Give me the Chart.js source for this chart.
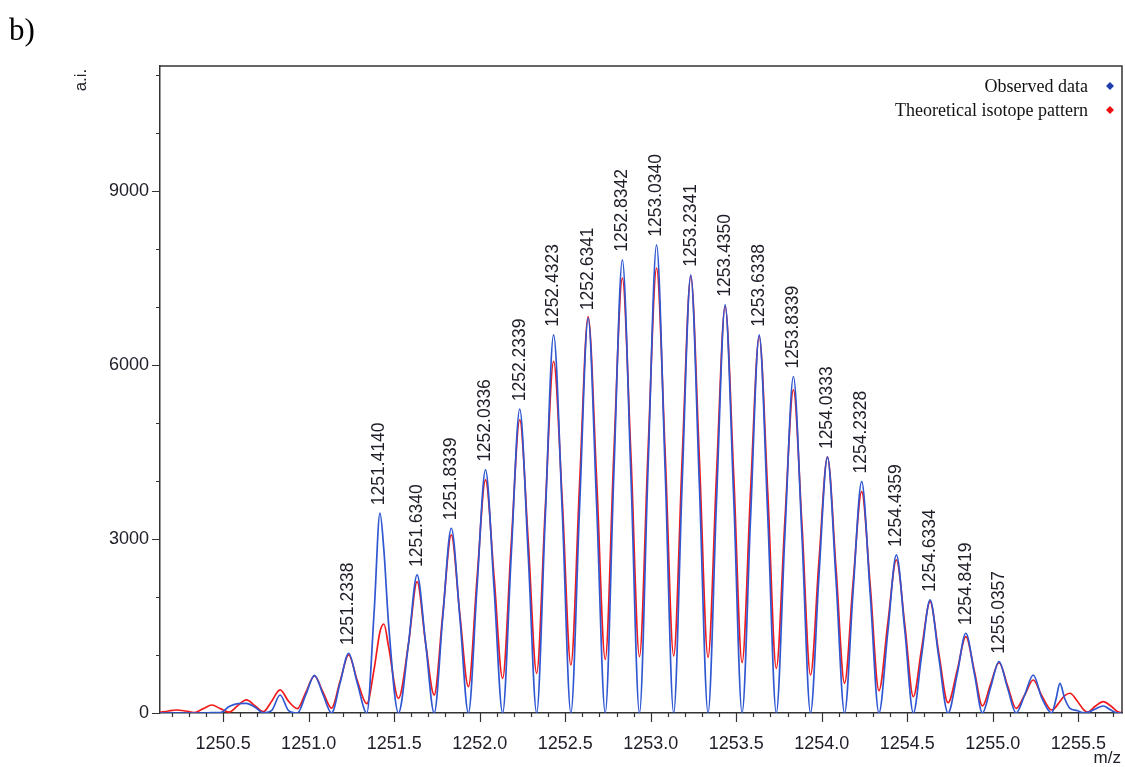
<!DOCTYPE html>
<html>
<head>
<meta charset="utf-8">
<script src="https://cdn.jsdelivr.net/npm/chart.js@4.4.1/dist/chart.umd.min.js"></script>
<style>
  html, body { margin: 0; padding: 0; background: #ffffff; }
  #wrap { position: relative; width: 1125px; height: 767px; }
</style>
</head>
<body>
<div id="wrap"><canvas id="chart" width="1125" height="767"></canvas></div>
<script>
// ---- data ----
const mz = [
  1250.131, 1250.180, 1250.229, 1250.280, 1250.330, 1250.384, 1250.434, 1250.484,
  1250.535, 1250.586, 1250.636, 1250.686, 1250.735, 1250.783, 1250.833, 1250.883,
  1250.934, 1250.984, 1251.034, 1251.084, 1251.134, 1251.184, 1251.234, 1251.284,
  1251.340, 1251.383, 1251.417, 1251.440, 1251.467, 1251.525, 1251.584, 1251.634,
  1251.684, 1251.734, 1251.784, 1251.834, 1251.884, 1251.934, 1251.984, 1252.034,
  1252.084, 1252.134, 1252.184, 1252.234, 1252.284, 1252.333, 1252.383, 1252.432,
  1252.483, 1252.533, 1252.584, 1252.634, 1252.684, 1252.734, 1252.784, 1252.834,
  1252.884, 1252.934, 1252.984, 1253.034, 1253.084, 1253.134, 1253.184, 1253.234,
  1253.284, 1253.335, 1253.385, 1253.435, 1253.485, 1253.534, 1253.584, 1253.634,
  1253.684, 1253.734, 1253.784, 1253.834, 1253.884, 1253.934, 1253.983, 1254.033,
  1254.083, 1254.133, 1254.183, 1254.233, 1254.283, 1254.334, 1254.386, 1254.436,
  1254.486, 1254.535, 1254.583, 1254.633, 1254.683, 1254.738, 1254.792, 1254.842,
  1254.892, 1254.939, 1254.986, 1255.036, 1255.086, 1255.136, 1255.186, 1255.236,
  1255.286, 1255.344, 1255.370, 1255.392, 1255.420, 1255.451, 1255.490, 1255.530,
  1255.555, 1255.600, 1255.645, 1255.690, 1255.730, 1255.755
];
const observed = [
  0, 0, 0, 0, 0, 0, 8, 5,
  110, 160, 165, 100, 5, 40, 310, 40,
  0, 320, 650, 320, 0, 520, 1030, 520,
  0, 1750, 3443, 2800, 1550, 0, 1200, 2379,
  1200, 0, 1650, 3184, 1650, 0, 2150, 4190,
  2150, 0, 2700, 5236, 2700, 0, 3350, 6517,
  3450, 0, 3550, 6805, 3550, 0, 4100, 7810,
  4100, 0, 4200, 8069, 4200, 0, 4000, 7552,
  3950, 0, 3700, 7034, 3700, 0, 3400, 6517,
  3400, 0, 3050, 5799, 3050, 0, 2350, 4410,
  2300, 0, 2100, 3989, 2050, 0, 1400, 2724,
  1400, 0, 980, 1948, 980, 0, 680, 1374,
  680, 0, 430, 885, 430, 0, 310, 655,
  260, 0, 250, 512, 250, 80, 45, 5,
  10, 70, 121, 50, 0, 0
];
const theoretical = [
  10, 35, 52, 35, 8, 75, 138, 75,
  15, 130, 225, 125, 22, 200, 397, 200,
  75, 360, 640, 360, 85, 550, 1000, 560,
  160, 760, 1400, 1534, 1150, 253, 1200, 2264,
  1200, 310, 1700, 3069, 1700, 454, 2300, 4017,
  2350, 598, 2900, 5052, 2950, 684, 3500, 6058,
  3650, 828, 3950, 6833, 4000, 925, 4450, 7494,
  4450, 971, 4500, 7667, 4500, 983, 4400, 7523,
  4400, 960, 4150, 7005, 4100, 868, 3850, 6488,
  3800, 770, 3300, 5569, 3250, 655, 2600, 4410,
  2500, 512, 2250, 3816, 2200, 385, 1550, 2638,
  1500, 281, 1100, 1919, 1050, 178, 740, 1316,
  720, 121, 490, 868, 470, 80, 310, 569,
  300, 52, 110, 200, 300, 340, 220, 60,
  17, 120, 195, 120, 20, 5
];
const peakLabels = [
  '1251.2338', '1251.4140', '1251.6340', '1251.8339', '1252.0336',
  '1252.2339', '1252.4323', '1252.6341', '1252.8342', '1253.0340',
  '1253.2341', '1253.4350', '1253.6338', '1253.8339', '1254.0333',
  '1254.2328', '1254.4359', '1254.6334', '1254.8419', '1255.0357'
];
const xTickValues = [1250.5, 1251.0, 1251.5, 1252.0, 1252.5, 1253.0, 1253.5, 1254.0, 1254.5, 1255.0, 1255.5];
const xTickLabels = ['1250.5', '1251.0', '1251.5', '1252.0', '1252.5', '1253.0', '1253.5', '1254.0', '1254.5', '1255.0', '1255.5'];
const yTickValues = [0, 3000, 6000, 9000];
const yTickLabels = ['0', '3000', '6000', '9000'];
const yMinorTicks = [1000, 2000, 4000, 5000, 7000, 8000, 10000, 11000];
const seriesNames = ['Observed data', 'Theoretical isotope pattern'];
const xAxisTitle = 'm/z';
const yAxisTitle = 'a.i.';
const panelTag = 'b)';

// ---- styling ----
const BLUE = '#2f57d2';
const RED = '#f21a1a';
const AXIS = '#333333';
const TEXT = '#1e1e28';
const SANS = '"Liberation Sans", Arial, sans-serif';
const SERIF = '"Liberation Serif", "Times New Roman", serif';

const xMinorTicks = [];
for (let k = 12502; k <= 12557; k++) { if (k % 5 !== 0) xMinorTicks.push(k / 10); }

const decor = {
  id: 'decor',
  afterDraw(chart) {
    const { ctx, chartArea: a, scales: { x, y } } = chart;
    ctx.save();
    // frame (top and right)
    ctx.strokeStyle = AXIS;
    ctx.lineWidth = 1.5;
    ctx.beginPath();
    ctx.moveTo(a.left, a.top); ctx.lineTo(a.right, a.top); ctx.lineTo(a.right, a.bottom);
    ctx.stroke();
    // tick marks
    ctx.lineWidth = 1.2;
    ctx.beginPath();
    xTickValues.forEach(v => { const px = Math.round(x.getPixelForValue(v)) + 0.5; ctx.moveTo(px, a.bottom); ctx.lineTo(px, a.bottom + 9); });
    xMinorTicks.forEach(v => { const px = Math.round(x.getPixelForValue(v)) + 0.5; if (px > a.left + 1 && px < a.right - 1) { ctx.moveTo(px, a.bottom); ctx.lineTo(px, a.bottom + 4); } });
    yTickValues.forEach(v => { const py = Math.round(y.getPixelForValue(v)) + 0.5; ctx.moveTo(a.left, py); ctx.lineTo(a.left - 8, py); });
    yMinorTicks.forEach(v => { const py = Math.round(y.getPixelForValue(v)) + 0.5; if (py > a.top + 1) { ctx.moveTo(a.left, py); ctx.lineTo(a.left - 4, py); } });
    ctx.stroke();

    // peak labels
    ctx.fillStyle = TEXT;
    ctx.font = '17.5px ' + SANS;
    ctx.textAlign = 'left';
    ctx.textBaseline = 'middle';
    peakLabels.forEach(lbl => {
      const m = parseFloat(lbl);
      let top = 0;
      mz.forEach((v, i) => { if (Math.abs(v - m) < 0.03 && observed[i] > top) top = observed[i]; });
      const px = x.getPixelForValue(m);
      const py = y.getPixelForValue(top) - 8;
      ctx.save();
      ctx.translate(px, py);
      ctx.rotate(-Math.PI / 2);
      ctx.fillText(lbl, 0, 0);
      ctx.restore();
    });

    // legend
    ctx.font = '18px ' + SERIF;
    ctx.textAlign = 'right';
    ctx.textBaseline = 'alphabetic';
    const legendColors = [ '#1f3fae', '#e81010' ];
    seriesNames.forEach((name, i) => {
      const by = 92 + i * 24;
      ctx.fillStyle = '#111';
      ctx.fillText(name, 1088, by);
      const cx = 1110, cy = by - 6, r = 4;
      ctx.fillStyle = legendColors[i];
      ctx.beginPath();
      ctx.moveTo(cx, cy - r); ctx.lineTo(cx + r, cy); ctx.lineTo(cx, cy + r); ctx.lineTo(cx - r, cy); ctx.closePath();
      ctx.fill();
    });

    // axis titles and panel tag
    ctx.fillStyle = TEXT;
    ctx.font = '17px ' + SANS;
    ctx.textAlign = 'right';
    ctx.textBaseline = 'alphabetic';
    ctx.fillText(xAxisTitle, 1121, 763);
    ctx.save();
    ctx.translate(86, 80);
    ctx.rotate(-Math.PI / 2);
    ctx.textAlign = 'center';
    ctx.fillText(yAxisTitle, 0, 0);
    ctx.restore();
    ctx.fillStyle = '#000';
    ctx.font = '31px ' + SERIF;
    ctx.textAlign = 'left';
    ctx.fillText(panelTag, 9, 40);
    ctx.restore();
  }
};

new Chart(document.getElementById('chart').getContext('2d'), {
  type: 'line',
  data: {
    datasets: [
      { label: seriesNames[0], data: mz.map((v, i) => ({ x: v, y: observed[i] })), borderColor: BLUE, borderWidth: 1.7, pointRadius: 0, fill: false, cubicInterpolationMode: 'monotone' },
      { label: seriesNames[1], data: mz.map((v, i) => ({ x: v, y: theoretical[i] })), borderColor: RED, borderWidth: 1.7, pointRadius: 0, fill: false, cubicInterpolationMode: 'monotone' }
    ]
  },
  options: {
    responsive: false,
    animation: false,
    devicePixelRatio: 1,
    layout: { padding: { top: 66, right: 3, left: 0, bottom: 0 } },
    plugins: { legend: { display: false }, tooltip: { enabled: false } },
    scales: {
      x: {
        type: 'linear', min: 1250.131, max: 1255.755,
        grid: { display: false },
        border: { display: true, color: AXIS, width: 1.5 },
        afterBuildTicks: s => { s.ticks = xTickValues.map(v => ({ value: v })); },
        afterFit: s => { s.height = 54; },
        ticks: { autoSkip: false, maxRotation: 0, minRotation: 0, padding: 12, color: TEXT,
                 font: { family: SANS, size: 18 }, callback: (v, i) => xTickLabels[i] }
      },
      y: {
        type: 'linear', min: 0, max: 11150,
        grid: { display: false },
        border: { display: true, color: AXIS, width: 1.5 },
        afterBuildTicks: s => { s.ticks = yTickValues.map(v => ({ value: v })); },
        afterFit: s => { s.width = 160; },
        ticks: { padding: 3, color: TEXT, font: { family: SANS, size: 18 }, callback: (v, i) => yTickLabels[i] }
      }
    }
  },
  plugins: [decor]
});
</script>
</body>
</html>
